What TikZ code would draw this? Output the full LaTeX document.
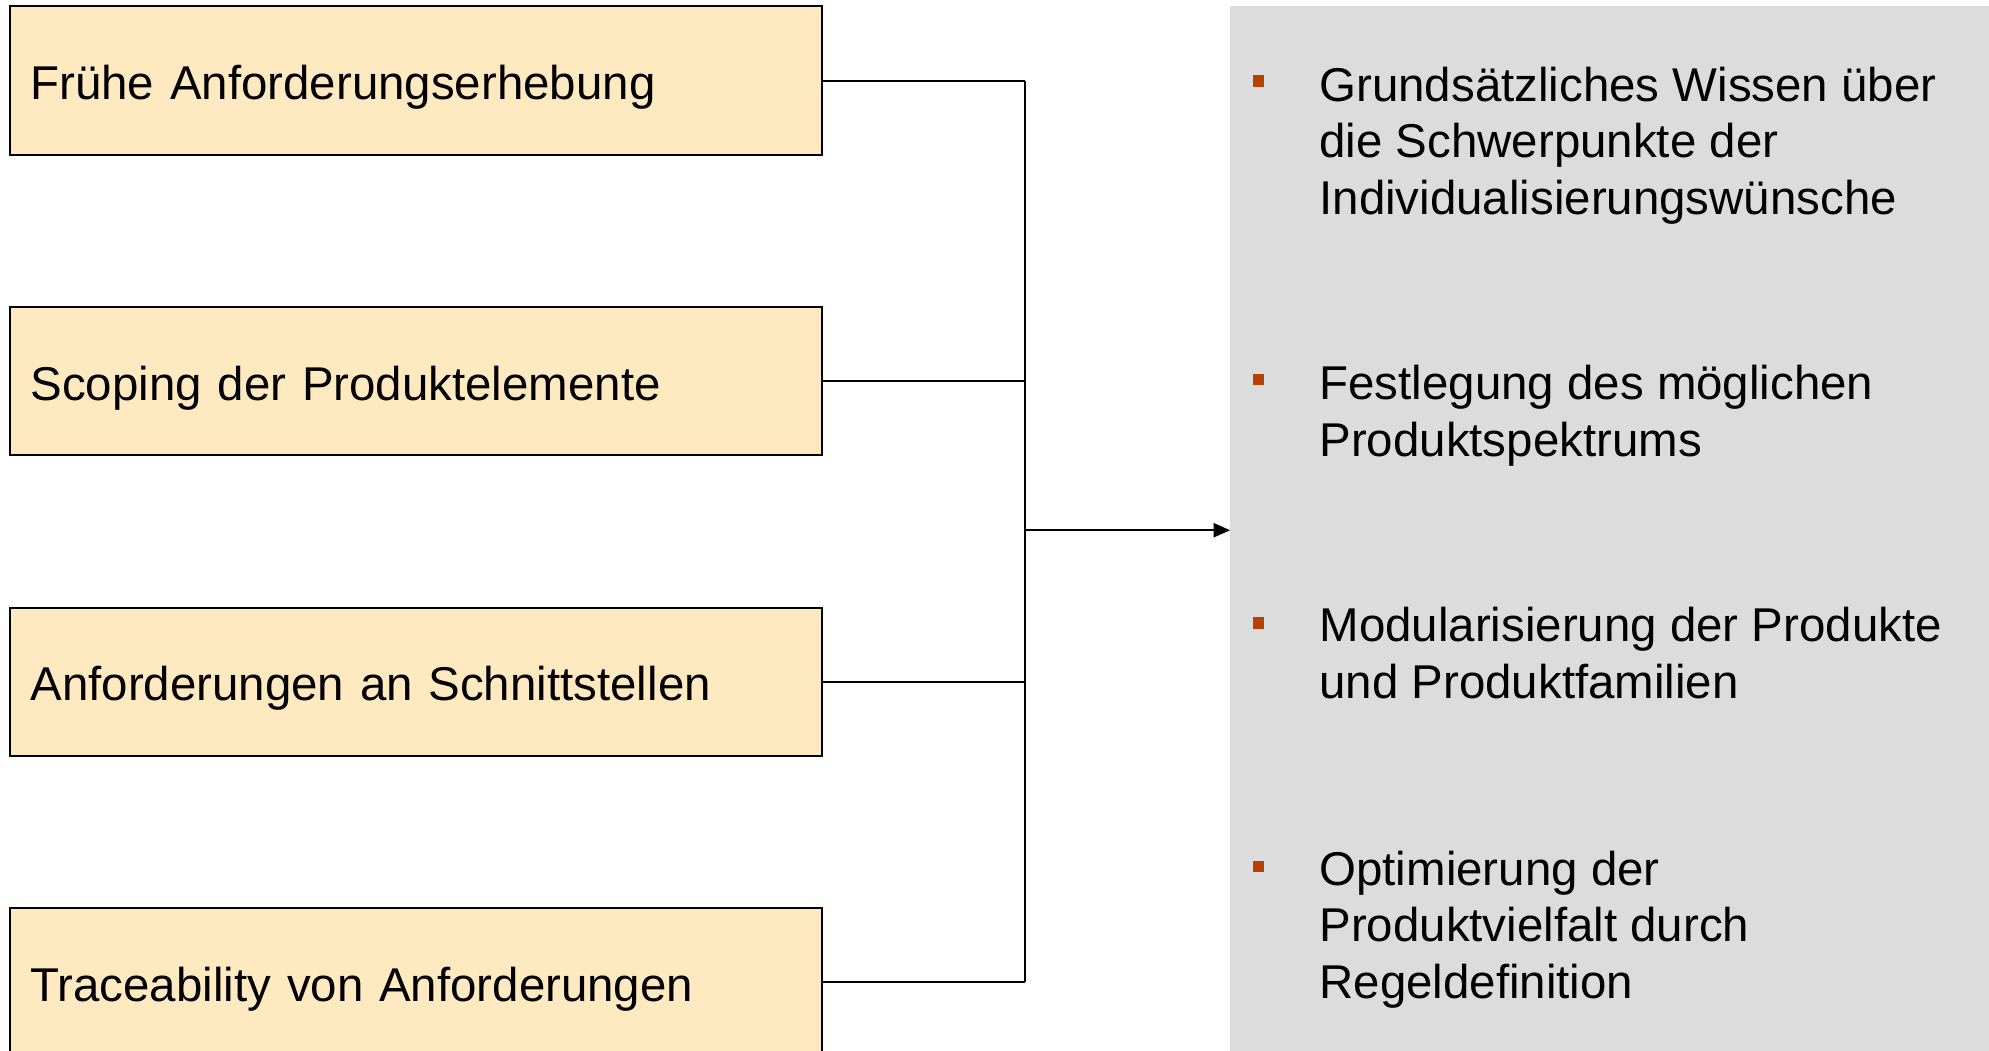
\documentclass[tikz,border=0pt]{standalone}
\usepackage{fontspec}
\setmainfont{Liberation Sans}
\usetikzlibrary{arrows.meta}
\definecolor{boxfill}{HTML}{FFE9C0}
\definecolor{panelgray}{HTML}{DCDCDC}
\definecolor{bulletc}{HTML}{B94100}
\newcommand{\itemlines}[1]{\begin{tabular}[t]{@{}l@{}}#1\end{tabular}}
\begin{document}
\begin{tikzpicture}[x=1pt,y=-1pt,
  reqbox/.style={draw=black,line width=1.5pt,fill=boxfill,minimum width=640pt,minimum height=117pt,
    text width=608pt,text height=35.8pt,text depth=5.9pt,inner xsep=16pt,inner ysep=0pt,align=left,
    font=\fontsize{37.4}{44.5}\selectfont},
  panelbox/.style={fill=panelgray,draw=none,minimum width=598pt,minimum height=826pt,inner sep=0pt},
  bulletsq/.style={fill=bulletc,draw=none,minimum size=9pt,inner sep=0pt},
  itemtext/.style={anchor=base west,inner sep=0pt,font=\fontsize{37.4}{44.5}\selectfont},
  conn/.style={line width=1.6pt,draw=black}]
\clip (0,0) rectangle (1568,828);
\fill[white] (0,0) rectangle (1568,828);
% left boxes
\node[reqbox] (b1) at (328,63.5) {Frühe Anforderungserhebung};
\node[reqbox] (b2) at (328,300.5) {Scoping der Produktelemente};
\node[reqbox] (b3) at (328,537.5) {Anforderungen an Schnittstellen};
\node[reqbox] (b4) at (328,774.5) {Traceability von Anforderungen};
% right panel
\node[panelbox] (panel) at (1269,418) {};
% spine
\coordinate (spine) at (808,0);
\draw[conn] (b1.east) -- (b1.east -| spine);
\draw[conn] (b2.east) -- (b2.east -| spine);
\draw[conn] (b3.east) -- (b3.east -| spine);
\draw[conn] (b4.east) -- (b4.east -| spine);
\draw[conn] (b1.east -| spine) -- (b4.east -| spine);
\draw[conn,-{Triangle[length=13pt,width=11pt]}] (spine |- panel.west) -- (panel.west);
% bullets
\node[bulletsq] (s1) at (992,64) {};
\node[bulletsq] (s2) at (992,299) {};
\node[bulletsq] (s3) at (992,491) {};
\node[bulletsq] (s4) at (992,683) {};
\node[itemtext] (t1) at (1040,80) {\itemlines{Grundsätzliches Wissen über\\die Schwerpunkte der\\Individualisierungswünsche}};
\node[itemtext] (t2) at (1040,315) {\itemlines{Festlegung des möglichen\\Produktspektrums}};
\node[itemtext] (t3) at (1040,506) {\itemlines{Modularisierung der Produkte\\und Produktfamilien}};
\node[itemtext] (t4) at (1040,698) {\itemlines{Optimierung der\\Produktvielfalt durch\\Regeldefinition}};
\end{tikzpicture}
\end{document}
